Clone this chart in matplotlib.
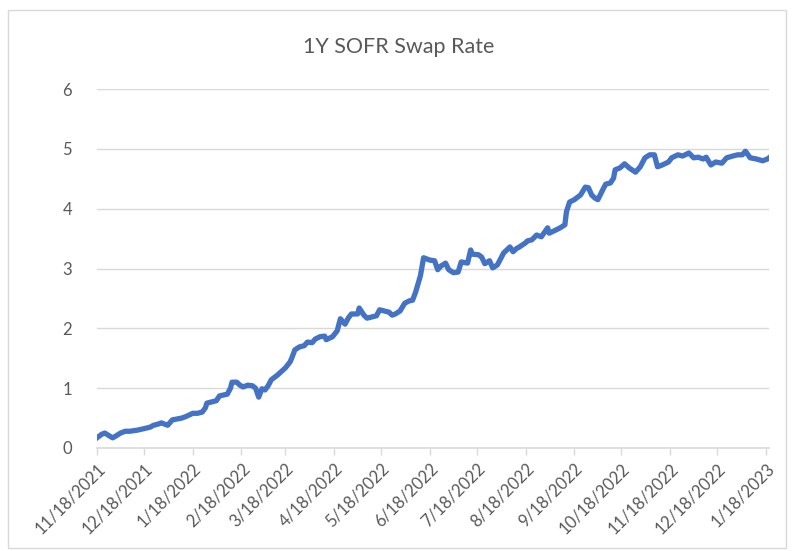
import matplotlib.pyplot as plt
import matplotlib.dates as mdates
from matplotlib.patches import Rectangle
import pandas as pd

# 1Y SOFR swap rate
dates = [
    "2021-11-18", "2021-11-21", "2021-11-23", "2021-11-26", "2021-11-28", "2021-11-30",
    "2021-12-03", "2021-12-06", "2021-12-09", "2021-12-14", "2021-12-19", "2021-12-22",
    "2021-12-24", "2021-12-27", "2021-12-29", "2022-01-02", "2022-01-04", "2022-01-05",
    "2022-01-11", "2022-01-14", "2022-01-18", "2022-01-21", "2022-01-24", "2022-01-26",
    "2022-01-27", "2022-01-30", "2022-02-02", "2022-02-04", "2022-02-09", "2022-02-11",
    "2022-02-12", "2022-02-15", "2022-02-17", "2022-02-19", "2022-02-22", "2022-02-25",
    "2022-02-27", "2022-03-01", "2022-03-03", "2022-03-05", "2022-03-07", "2022-03-09",
    "2022-03-13", "2022-03-18", "2022-03-21", "2022-03-22", "2022-03-24", "2022-03-27",
    "2022-03-30", "2022-04-01", "2022-04-04", "2022-04-06", "2022-04-09", "2022-04-12",
    "2022-04-13", "2022-04-17", "2022-04-20", "2022-04-22", "2022-04-25", "2022-04-27",
    "2022-04-29", "2022-05-03", "2022-05-04", "2022-05-07", "2022-05-09", "2022-05-12",
    "2022-05-15", "2022-05-17", "2022-05-20", "2022-05-23", "2022-05-25", "2022-05-27",
    "2022-05-30", "2022-06-02", "2022-06-05", "2022-06-07", "2022-06-09", "2022-06-12",
    "2022-06-14", "2022-06-16", "2022-06-18", "2022-06-21", "2022-06-23", "2022-06-25",
    "2022-06-28", "2022-06-30", "2022-07-03", "2022-07-06", "2022-07-08", "2022-07-12",
    "2022-07-14", "2022-07-15", "2022-07-19", "2022-07-21", "2022-07-23", "2022-07-26",
    "2022-07-28", "2022-07-31", "2022-08-04", "2022-08-06", "2022-08-08", "2022-08-10",
    "2022-08-12", "2022-08-14", "2022-08-18", "2022-08-19", "2022-08-22", "2022-08-25",
    "2022-08-28", "2022-09-01", "2022-09-02", "2022-09-06", "2022-09-09", "2022-09-12",
    "2022-09-13", "2022-09-15", "2022-09-18", "2022-09-22", "2022-09-25", "2022-09-27",
    "2022-09-29", "2022-10-01", "2022-10-03", "2022-10-06", "2022-10-08", "2022-10-11",
    "2022-10-13", "2022-10-14", "2022-10-17", "2022-10-20", "2022-10-23", "2022-10-27",
    "2022-10-30", "2022-11-02", "2022-11-05", "2022-11-08", "2022-11-10", "2022-11-13",
    "2022-11-17", "2022-11-19", "2022-11-23", "2022-11-26", "2022-11-30", "2022-12-03",
    "2022-12-06", "2022-12-09", "2022-12-11", "2022-12-14", "2022-12-17", "2022-12-21",
    "2022-12-24", "2022-12-28", "2022-12-31", "2023-01-03", "2023-01-05", "2023-01-08",
    "2023-01-12", "2023-01-16", "2023-01-19", "2023-01-20",
]
rates = [
    0.17, 0.23, 0.25, 0.20, 0.17, 0.20,
    0.25, 0.28, 0.28, 0.30, 0.33, 0.35,
    0.38, 0.40, 0.42, 0.38, 0.44, 0.47,
    0.50, 0.53, 0.58, 0.58, 0.60, 0.67,
    0.75, 0.77, 0.79, 0.87, 0.90, 1.00,
    1.10, 1.10, 1.05, 1.02, 1.05, 1.04,
    1.00, 0.85, 0.99, 0.97, 1.04, 1.14,
    1.22, 1.34, 1.44, 1.50, 1.64, 1.69,
    1.71, 1.77, 1.76, 1.82, 1.86, 1.87,
    1.81, 1.86, 1.96, 2.16, 2.07, 2.17,
    2.24, 2.24, 2.34, 2.22, 2.17, 2.19,
    2.21, 2.31, 2.29, 2.27, 2.22, 2.24,
    2.29, 2.42, 2.46, 2.47, 2.61, 2.88,
    3.18, 3.16, 3.14, 3.13, 2.98, 3.04,
    3.09, 2.98, 2.93, 2.94, 3.11, 3.09,
    3.31, 3.24, 3.23, 3.19, 3.08, 3.13,
    3.01, 3.06, 3.26, 3.31, 3.36, 3.28,
    3.33, 3.36, 3.43, 3.46, 3.48, 3.56,
    3.53, 3.68, 3.59, 3.64, 3.68, 3.73,
    3.95, 4.11, 4.15, 4.23, 4.36, 4.35,
    4.23, 4.18, 4.15, 4.31, 4.41, 4.43,
    4.51, 4.65, 4.68, 4.75, 4.68, 4.61,
    4.70, 4.85, 4.90, 4.90, 4.70, 4.73,
    4.78, 4.85, 4.90, 4.88, 4.93, 4.85,
    4.86, 4.83, 4.86, 4.73, 4.78, 4.76,
    4.85, 4.88, 4.90, 4.90, 4.96, 4.85,
    4.83, 4.80, 4.83, 4.85,
]
tick_dates = [
    "2021-11-18", "2021-12-18", "2022-01-18", "2022-02-18", "2022-03-18",
    "2022-04-18", "2022-05-18", "2022-06-18", "2022-07-18", "2022-08-18",
    "2022-09-18", "2022-10-18", "2022-11-18", "2022-12-18", "2023-01-18",
]

x = pd.to_datetime(dates)
grey_text = "#595959"
grid_col = "#D9D9D9"

plt.rcParams["font.family"] = ["Lato", "DejaVu Sans"]

fig = plt.figure(figsize=(7.97, 5.51), dpi=100)
# chart area border like an Excel chart
fig.patches.append(Rectangle((8 / 797, 3 / 551), 778 / 797, 538 / 551,
                             transform=fig.transFigure, fill=False,
                             edgecolor=grid_col, linewidth=1))
ax = fig.add_axes([97 / 797, 103 / 551, 672 / 797, 359 / 551])

ax.plot(x, rates, color="#4472C4", linewidth=3.8, solid_joinstyle="round")

ax.set_ylim(0, 6)
ax.set_yticks(range(0, 7))
ax.set_xlim(pd.Timestamp("2021-11-18"), pd.Timestamp("2023-01-20"))
ax.set_xticks(pd.to_datetime(tick_dates))
ax.xaxis.set_major_formatter(
    plt.FuncFormatter(lambda v, p: "{d.month}/{d.day}/{d.year}".format(d=mdates.num2date(v))))

ax.grid(axis="y", color=grid_col, linewidth=1)
ax.set_axisbelow(True)
for s in ["top", "right", "left"]:
    ax.spines[s].set_visible(False)
ax.spines["bottom"].set_color(grid_col)
ax.spines["bottom"].set_linewidth(1.2)

ax.tick_params(axis="y", length=0, pad=18, labelsize=12, labelcolor=grey_text)
ax.tick_params(axis="x", length=5, color=grid_col, width=1, pad=4,
               labelsize=12, labelcolor=grey_text)
for lab in ax.get_xticklabels():
    lab.set_rotation(45)
    lab.set_ha("right")
    lab.set_rotation_mode("anchor")

fig.text(0.5, 1 - 47 / 551, "1Y SOFR Swap Rate", ha="center", va="center",
         fontsize=15.5, color=grey_text)

plt.savefig("out.png", dpi=100)
